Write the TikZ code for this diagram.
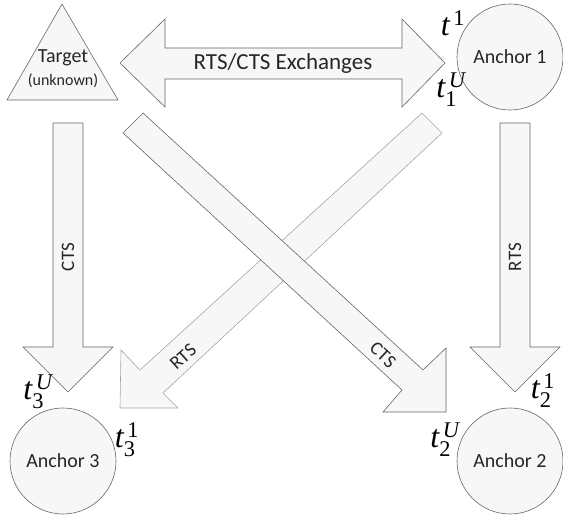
\documentclass[tikz,border=0pt]{standalone}
\usepackage{amsmath}
\usepackage{fontspec}
\setmainfont{Carlito}
\newfontfamily\timefont{Liberation Serif}

\newcommand{\tstamp}[2]{$\text{\timefont\itshape t}^{\,\text{\timefont #2}}_{\text{\timefont #1}}$}

\tikzset{
  blockarrow/.style={fill=gray!6, draw=black!60, line width=0.6pt},
  station/.style={circle, fill=gray!6, draw=black!60, line width=0.6pt,
    minimum size=106pt, inner sep=0pt, text=black!85,
    font=\fontsize{20}{22}\selectfont},
  msg/.style={inner sep=0pt, text=black!85, font=\fontsize{19}{21}\selectfont},
  stamp/.style={inner sep=0pt, font=\fontsize{32}{34}\selectfont}
}

\begin{document}
\begin{tikzpicture}[x=1pt,y=-1pt]
\useasboundingbox (0,0) rectangle (563,518);

% Target
\draw[blockarrow] (62,4) -- (118,100) -- (7,100) -- cycle;
\node[align=center, inner sep=0pt, text=black!85, font=\fontsize{20}{24}\selectfont]
  (target) at (63,69) {Target\\[-1pt]{\fontsize{16}{18}\selectfont (unknown)}};

% Anchors
\node[station] (anchor1) at (510,57) {Anchor 1};
\node[station] (anchor2) at (510,461) {Anchor 2};
\node[station] (anchor3) at (63,461) {Anchor 3};

% RTS/CTS exchange
\draw[blockarrow] (120,63) -- (165,19) -- (165,48) -- (402,48) -- (402,19)
  -- (445,63) -- (402,107) -- (402,79) -- (165,79) -- (165,107) -- cycle;
\node[msg, font=\fontsize{23}{25}\selectfont] (exch) at (283,63) {RTS/CTS Exchanges};

% Target to Anchor 3
\draw[blockarrow] (53,123) -- (83,123) -- (83,347) -- (113,347) -- (68,392)
  -- (23,347) -- (53,347) -- cycle;
\node[msg, rotate=90] (cts3) at (68,257) {CTS};

% Anchor 1 to Anchor 2
\draw[blockarrow] (500,123) -- (530,123) -- (530,347) -- (560,347) -- (515,392)
  -- (470,347) -- (500,347) -- cycle;
\node[msg, rotate=90] (rts2) at (515,257) {RTS};

% Anchor 1 to Anchor 3
\draw[blockarrow, draw=black!35] (422,113) -- (140,370) -- (121,350) -- (120,408)
  -- (178,408) -- (163,393) -- (442,133) -- cycle;
\node[msg, rotate=42] (rts3) at (183,357) {RTS};

% Target to Anchor 2
\draw[blockarrow] (143,113) -- (423,370) -- (446,348) -- (446,412)
  -- (383,412) -- (402,390) -- (123,133) -- cycle;
\node[msg, rotate=-43] (cts2) at (383,355) {CTS};

% time stamps
\node[stamp] (ta) at (453,26) {\tstamp{}{1}};
\node[stamp] (tb) at (451,90) {\tstamp{1}{\itshape U}};
\node[stamp] (tc) at (38,392) {\tstamp{3}{\itshape U}};
\node[stamp] (td) at (127,440) {\tstamp{3}{1}};
\node[stamp] (te) at (543,391) {\tstamp{2}{1}};
\node[stamp] (tf) at (445,440) {\tstamp{2}{\itshape U}};

\end{tikzpicture}
\end{document}
